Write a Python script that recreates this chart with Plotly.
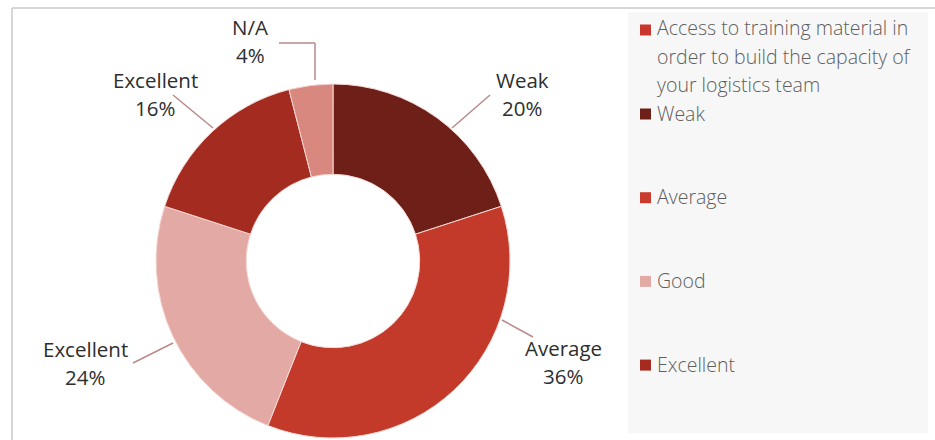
import plotly.graph_objects as go

# Survey result: access to training material for logistics team capacity
slice_labels = ["Weak", "Average", "Excellent", "Excellent", "N/A"]
slice_values = [20, 36, 24, 16, 4]
slice_colors = ["#6e1f17", "#c33a2b", "#e3aaa5", "#a32b20", "#d98880"]

legend_title = ["Access to training material in",
                "order to build the capacity of",
                "your logistics team"]
legend_items = ["Weak", "Average", "Good", "Excellent"]
legend_colors = ["#6e1f17", "#c83a2c", "#e2aaa4", "#a52a1f"]
title_color = "#c8372d"

W, H = 935, 440
FONT = "Open Sans"

fig = go.Figure()

fig.add_trace(go.Pie(
    labels=[f"{l} {i}" for i, l in enumerate(slice_labels)],
    values=slice_values,
    marker=dict(colors=slice_colors, line=dict(color="#f4d8d4", width=1)),
    hole=0.49,
    sort=False,
    direction="clockwise",
    rotation=0,
    textinfo="none",
    hoverinfo="skip",
    showlegend=False,
    domain=dict(x=[156 / W, 510 / W], y=[2 / H, 356 / H]),
))

shapes = []
annotations = []

def px_x(x):
    return x / W

def px_y(y):
    return 1 - y / H

# outer frame (top and left edges)
shapes.append(dict(type="line", xref="paper", yref="paper",
                   x0=px_x(12), x1=1, y0=px_y(8), y1=px_y(8),
                   line=dict(color="#d6d6d6", width=2)))
shapes.append(dict(type="line", xref="paper", yref="paper",
                   x0=px_x(12), x1=px_x(12), y0=px_y(8), y1=0,
                   line=dict(color="#d6d6d6", width=2)))

# legend panel
shapes.append(dict(type="rect", xref="paper", yref="paper",
                   x0=px_x(628), x1=px_x(928), y0=px_y(433), y1=px_y(12),
                   fillcolor="#f7f7f7", line=dict(width=0), layer="below"))

# slice labels: (text x, first line y, leader line points)
label_layout = [
    (522, 80, [(452, 128), (490, 95)]),
    (563, 348, [(502, 320), (533, 337)]),
    (85, 349, [(173, 343), (133, 363)]),
    (155, 80, [(213, 128), (173, 95)]),
    (250, 27, [(315, 80), (315, 43), (279, 43)]),
]
lead_color = "#b98a88"
for name, val, (tx, ty, pts) in zip(slice_labels, slice_values, label_layout):
    for k in range(len(pts) - 1):
        (x0, y0), (x1, y1) = pts[k], pts[k + 1]
        shapes.append(dict(type="line", xref="paper", yref="paper",
                           x0=px_x(x0), y0=px_y(y0), x1=px_x(x1), y1=px_y(y1),
                           line=dict(color=lead_color, width=1.5)))
    for j, line in enumerate([name, f"{val}%"]):
        annotations.append(dict(xref="paper", yref="paper",
                                x=px_x(tx), y=px_y(ty + j * 28),
                                text=line, showarrow=False,
                                xanchor="center", yanchor="middle",
                                font=dict(family=FONT, size=20.5, color="#2e2e2e")))

# legend entries
leg_font = dict(family=FONT, size=19.5, color="#5e5e5e", weight=300)
sq = 11

def legend_square(cy, color):
    shapes.append(dict(type="rect", xref="paper", yref="paper",
                       x0=px_x(640), x1=px_x(640 + sq),
                       y0=px_y(cy + sq / 2), y1=px_y(cy - sq / 2),
                       fillcolor=color, line=dict(width=0)))

legend_square(30, title_color)
for j, line in enumerate(legend_title):
    annotations.append(dict(xref="paper", yref="paper",
                            x=px_x(655), y=px_y(28 + j * 28.5),
                            text=line, showarrow=False,
                            xanchor="left", yanchor="middle", font=leg_font))

for j, (name, color) in enumerate(zip(legend_items, legend_colors)):
    cy = 113 + j * 83.7
    legend_square(cy + 1, color)
    annotations.append(dict(xref="paper", yref="paper",
                            x=px_x(655), y=px_y(cy),
                            text=name, showarrow=False,
                            xanchor="left", yanchor="middle", font=leg_font))

fig.update_layout(
    width=W, height=H,
    margin=dict(l=0, r=0, t=0, b=0),
    paper_bgcolor="white",
    plot_bgcolor="white",
    shapes=shapes,
    annotations=annotations,
    showlegend=False,
)

fig.write_html("out.html", config={"displayModeBar": False})
